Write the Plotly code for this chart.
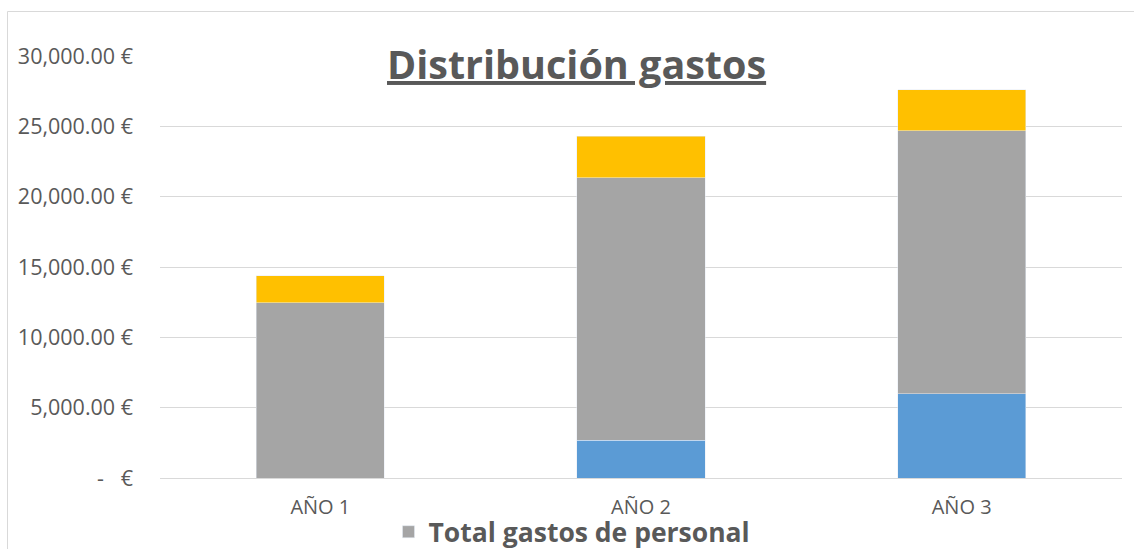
import plotly.graph_objects as go

# Categories and stacked series values (euros)
years = ["AÑO 1", "AÑO 2", "AÑO 3"]
inversion = [0, 2680, 6000]
gastos_personal = [12470, 18670, 18700]
otros_gastos = [1910, 2960, 2890]

# Y axis ticks in accounting format
ytick_vals = [0, 5000, 10000, 15000, 20000, 25000, 30000]
ytick_text = ["-\u00a0\u00a0\u00a0€", "5,000.00 €", "10,000.00 €", "15,000.00 €",
              "20,000.00 €", "25,000.00 €", "30,000.00 €"]

W, H = 1134, 549
L, R, T, B = 160, 12, 56, 71
pw, ph = W - L - R, H - T - B


def px_x(p):
    return (p - L) / pw


def px_y(p):
    return (H - B - p) / ph


font = "Open Sans"
grey_text = "#595959"

fig = go.Figure()
fig.add_trace(go.Bar(x=years, y=inversion, marker_color="#5B9BD5",
                     showlegend=False, name="Inversión"))
fig.add_trace(go.Bar(x=years, y=gastos_personal, marker_color="#A5A5A5",
                     showlegend=True, name="<b>Total gastos de personal</b>"))
fig.add_trace(go.Bar(x=years, y=otros_gastos, marker_color="#FFC000",
                     showlegend=False, name="Otros gastos"))

fig.update_layout(
    width=W, height=H,
    margin=dict(l=L, r=R, t=T, b=B, pad=0, autoexpand=False),
    barmode="stack",
    bargap=0.6,
    plot_bgcolor="white",
    paper_bgcolor="white",
    font=dict(family=font, color=grey_text),
    showlegend=True,
    legend=dict(orientation="h", x=px_x(572), y=px_y(532),
                xanchor="center", yanchor="middle",
                font=dict(size=26.5, color=grey_text, family=font),
                bgcolor="rgba(0,0,0,0)"),
    xaxis=dict(showgrid=False, showline=False, ticks="",
               tickfont=dict(size=20, color=grey_text),
               ticklabelstandoff=15),
    yaxis=dict(range=[0, 30000], tickvals=ytick_vals, ticktext=ytick_text,
               showgrid=True, gridcolor="#d9d9d9", gridwidth=1.3,
               zeroline=True, zerolinecolor="#d9d9d9", zerolinewidth=1.3,
               showline=False, ticks="",
               tickfont=dict(size=21.5, color=grey_text),
               ticklabelstandoff=26),
)

# Title with white box over the top gridline
fig.add_annotation(
    text="<b><u>Distribución gastos</u></b>",
    xref="paper", yref="paper", x=px_x(576), y=px_y(64),
    xanchor="center", yanchor="middle", showarrow=False,
    font=dict(size=39.5, color=grey_text, family=font),
    bgcolor="white",
)

# Chart frame
fig.add_shape(type="rect", xref="paper", yref="paper",
              x0=px_x(7.5), x1=px_x(1145), y0=px_y(570), y1=px_y(11.5),
              line=dict(color="#d9d9d9", width=1), fillcolor="rgba(0,0,0,0)",
              layer="below")

fig.write_html("out.html")
